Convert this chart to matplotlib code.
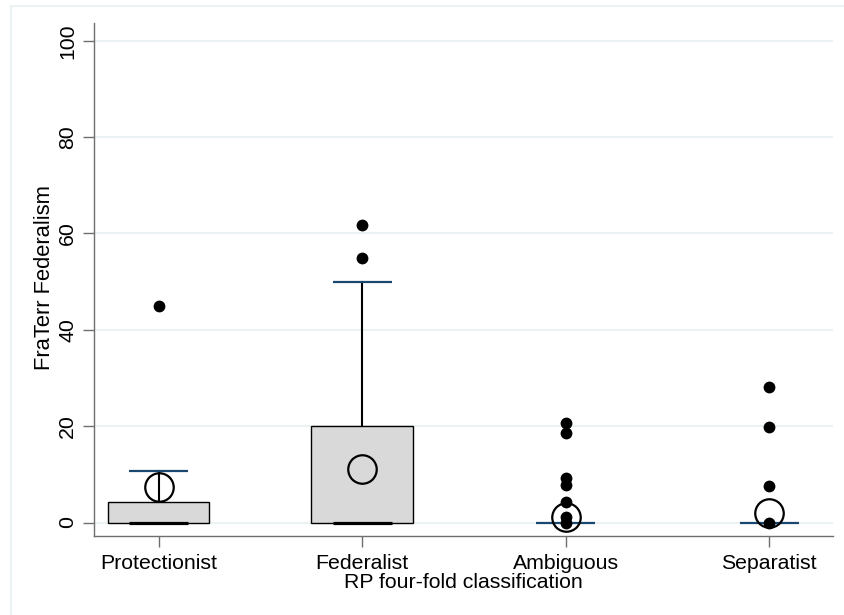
import matplotlib
matplotlib.use("Agg")
import matplotlib.pyplot as plt
from matplotlib.lines import Line2D

plt.rcParams['font.family'] = ['Liberation Sans', 'DejaVu Sans']

# data
groups = ["Protectionist", "Federalist", "Ambiguous", "Separatist"]
q1 = [0, 0, 0, 0]
median = [0, 0, 0, 0]
q3 = [4.2, 20, 0, 0]
upper_whisker = [10.6, 50, 0, 0]
means = [7.4, 11.1, 1.1, 2.0]
outliers = [
    [44.9],
    [55.0, 61.7],
    [20.7, 18.6, 9.2, 7.8, 4.3, 1.2, 0],
    [28.1, 19.9, 7.6, 0],
]
yticks = [0, 20, 40, 60, 80, 100]

navy = "#1a476f"
grid_col = "#eaf2f3"
spine_col = "#6e6e6e"
fs = 15.3

fig = plt.figure(figsize=(8.45, 6.15), dpi=100)
ax = fig.add_axes([94/845, 79/615, 739/845, 513/615])

pos = list(range(1, len(groups) + 1))
box_w = 0.5
cap_w = 0.29

for y in yticks:
    ax.axhline(y, color=grid_col, lw=1.5, zorder=0)

for i, p in enumerate(pos):
    if q3[i] > q1[i]:
        # whisker
        ax.plot([p, p], [q3[i], upper_whisker[i]], color="black", lw=1.5, zorder=2)
        # box
        ax.bar(p, q3[i] - q1[i], bottom=q1[i], width=box_w, color="#d9d9d9",
               edgecolor="black", lw=1.0, zorder=3)
        # median
        ax.plot([p - cap_w/2, p + cap_w/2], [median[i], median[i]], color="black",
                lw=2.3, solid_capstyle="butt", zorder=4)
    # cap
    ax.plot([p - cap_w/2, p + cap_w/2], [upper_whisker[i], upper_whisker[i]],
            color=navy, lw=1.6, solid_capstyle="butt", zorder=5)
    # outside values
    ax.plot([p] * len(outliers[i]), outliers[i], "o", color="black", ms=8.5,
            mec="none", zorder=6)
    # mean
    ax.plot(p, means[i], "o", mfc="none", mec="black", mew=1.6, ms=20.5, zorder=7)

ax.set_xlim(0.683, 4.313)
ax.set_ylim(-2.8, 103.7)
ax.set_xticks(pos)
ax.set_xticklabels(groups, fontsize=fs)
ax.set_yticks(yticks)
ax.set_yticklabels([str(t) for t in yticks], fontsize=fs, rotation=90, va="center")
ax.tick_params(axis="both", length=8, width=1, color=spine_col, pad=5)
ax.tick_params(axis="y", pad=4)

for s in ["top", "right"]:
    ax.spines[s].set_visible(False)
for s in ["left", "bottom"]:
    ax.spines[s].set_color(spine_col)
    ax.spines[s].set_linewidth(1.0)

ax.set_ylabel("FraTerr Federalism", fontsize=15.8)
ax.yaxis.set_label_coords(-0.053, 0.504)
ax.set_xlabel("RP four-fold classification", fontsize=fs, labelpad=0)

# light outer frame like the Stata graph region
fig.add_artist(Line2D([11/845, 1], [1 - 6/615, 1 - 6/615], transform=fig.transFigure,
                      color=grid_col, lw=1.5))
fig.add_artist(Line2D([11/845, 11/845], [0, 1 - 6/615], transform=fig.transFigure,
                      color=grid_col, lw=1.5))

fig.savefig("out.png", dpi=100)
